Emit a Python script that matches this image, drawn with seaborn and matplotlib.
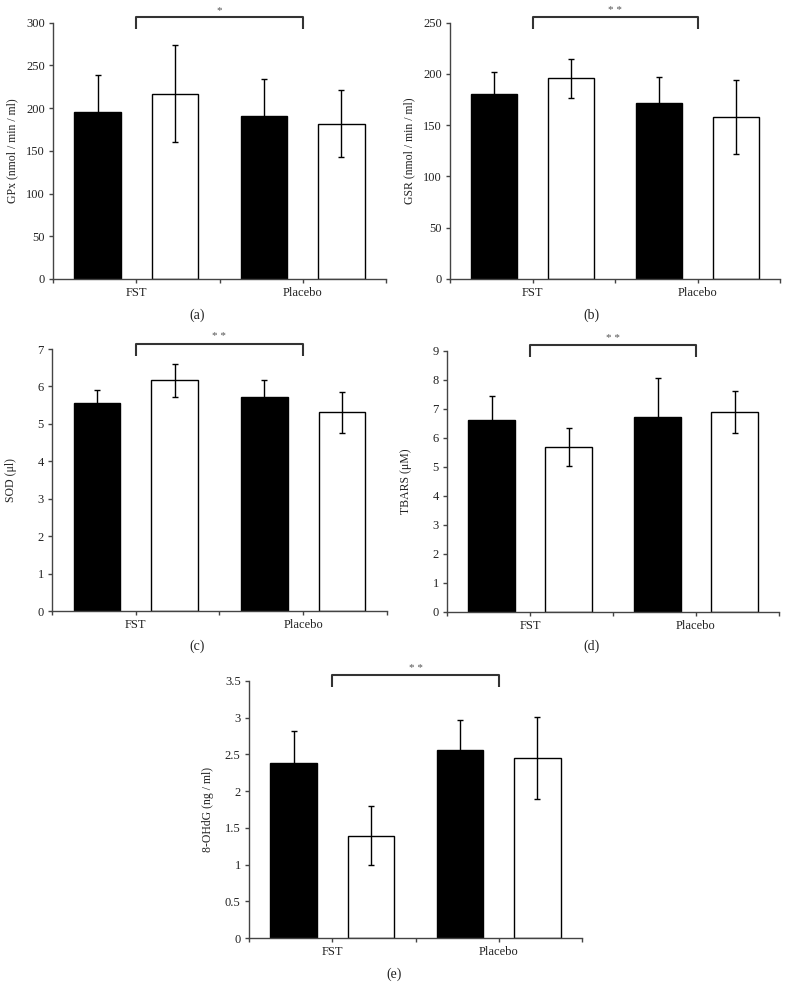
import numpy as np
import pandas as pd
import matplotlib
matplotlib.use('Agg')
import matplotlib.pyplot as plt
import seaborn as sns
from matplotlib.ticker import FormatStrFormatter

groups = ['FST', 'Placebo']
conditions = ['Pre', 'Post']  # black bars, white bars

# (a) GPx
gpx_pre = [195, 191]
gpx_post = [217, 182]
gpx_pre_err = [44, 43]
gpx_post_err = [57, 39]

# (b) GSR
gsr_pre = [180, 172]
gsr_post = [196, 158]
gsr_pre_err = [22, 25]
gsr_post_err = [19, 36]

# (c) SOD
sod_pre = [5.55, 5.71]
sod_post = [6.16, 5.31]
sod_pre_err = [0.36, 0.47]
sod_post_err = [0.45, 0.55]

# (d) TBARS
tbars_pre = [6.60, 6.70]
tbars_post = [5.68, 6.90]
tbars_pre_err = [0.84, 1.36]
tbars_post_err = [0.64, 0.72]

# (e) 8-OHdG
ohdg_pre = [2.38, 2.56]
ohdg_post = [1.39, 2.45]
ohdg_pre_err = [0.44, 0.41]
ohdg_post_err = [0.40, 0.56]

sns.set_style('white')
plt.rcParams['font.family'] = ['Liberation Serif', 'DejaVu Serif']

panels = [
    # rect, pre, post, pre_err, post_err, ymax, ystep, ylabel, stars, tag, tag_xy
    ([0.0673, 0.7213, 0.4226, 0.2560], gpx_pre, gpx_post, gpx_pre_err, gpx_post_err,
     300, 50, 'GPx (nmol / min / ml)', '*', '(a)', (0.25, 0.685)),
    ([0.5711, 0.7213, 0.4188, 0.2560], gsr_pre, gsr_post, gsr_pre_err, gsr_post_err,
     250, 50, 'GSR (nmol / min / ml)', '* *', '(b)', (0.75, 0.685)),
    ([0.0660, 0.3896, 0.4250, 0.2617], sod_pre, sod_post, sod_pre_err, sod_post_err,
     7, 1, 'SOD (μl)', '* *', '(c)', (0.25, 0.354)),
    ([0.5673, 0.3889, 0.4213, 0.2607], tbars_pre, tbars_post, tbars_pre_err, tbars_post_err,
     9, 1, 'TBARS (μM)', '* *', '(d)', (0.75, 0.354)),
    ([0.3160, 0.0629, 0.4226, 0.2570], ohdg_pre, ohdg_post, ohdg_pre_err, ohdg_post_err,
     3.5, 0.5, '8-OHdG (ng / ml)', '* *', '(e)', (0.5, 0.027)),
]

fig = plt.figure(figsize=(7.88, 10.01), dpi=100)

for rect, pre, post, pre_err, post_err, ymax, ystep, ylabel, stars, tag, tag_xy in panels:
    ax = fig.add_axes(rect)
    df = pd.DataFrame({
        'group': groups * 2,
        'cond': [conditions[0]] * 2 + [conditions[1]] * 2,
        'value': list(pre) + list(post),
    })
    errs = {conditions[0]: pre_err, conditions[1]: post_err}
    sns.barplot(data=df, x='group', y='value', hue='cond', order=groups,
                hue_order=conditions, palette=['black', 'white'],
                edgecolor='black', linewidth=1.0, width=0.928, gap=0.4,
                errorbar=None, legend=False, ax=ax, zorder=2)

    # error bars placed on the bars seaborn drew
    for cont, cond in zip(ax.containers, conditions):
        xs = [b.get_x() + b.get_width() / 2 for b in cont]
        ys = [b.get_height() for b in cont]
        ax.errorbar(xs, ys, yerr=errs[cond], fmt='none', ecolor='black',
                    elinewidth=1.0, capsize=2.5, capthick=1.0, zorder=3)

    ax.set_xlim(-0.5, 1.5)
    ax.set_ylim(0, ymax)
    ax.set_yticks(np.arange(0, ymax + ystep / 2, ystep))
    ax.yaxis.set_major_formatter(FormatStrFormatter('%g'))

    ax.set_xticks([-0.5, 0, 0.5, 1, 1.5])
    ax.set_xticklabels(['', groups[0], '', groups[1], ''])
    ax.set_xlabel('')
    ax.set_ylabel(ylabel, fontsize=8.5, color='#222222')
    ax.yaxis.set_label_coords(-0.105, 0.5)

    for s in ['top', 'right']:
        ax.spines[s].set_visible(False)
    for s in ['left', 'bottom']:
        ax.spines[s].set_color('#444444')
        ax.spines[s].set_linewidth(1.0)
    ax.tick_params(axis='both', direction='out', length=3, width=1.0,
                   color='#444444', labelsize=9, labelcolor='#222222')
    ax.tick_params(axis='x', pad=3)
    ax.tick_params(axis='y', pad=3)
    ax.tick_params(left=True, bottom=True)
    ax.grid(False)

    # significance bracket above the axes
    trans = ax.get_xaxis_transform()
    ax.plot([0, 0, 1, 1], [0.975, 1.021, 1.021, 0.975], color='#333333',
            lw=1.5, transform=trans, clip_on=False, solid_capstyle='butt')
    ax.text(0.5, 1.048, stars, transform=trans, ha='center', va='center',
            fontsize=8, color='#555555')

    fig.text(tag_xy[0], tag_xy[1], tag, ha='center', va='center', fontsize=10,
             color='#222222')

fig.savefig('out.png', dpi=100, facecolor='white')
